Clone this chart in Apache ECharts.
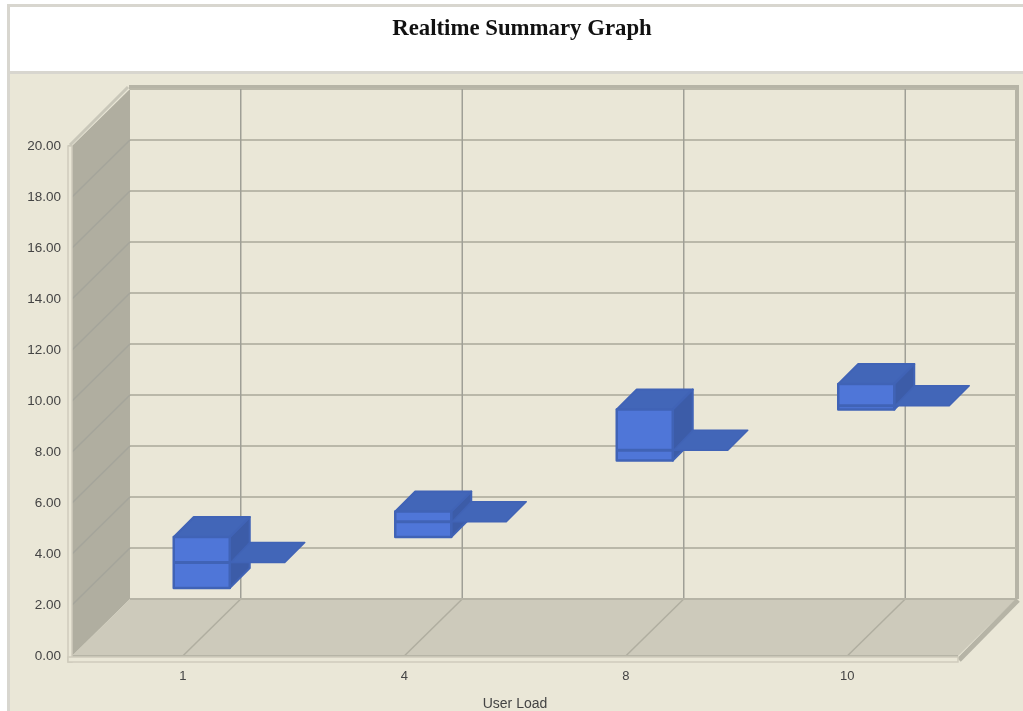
<!DOCTYPE html>
<html><head><meta charset="utf-8">
<style>html,body{margin:0;padding:0;background:#fff}#c{width:1023px;height:711px;filter:blur(0.45px)}</style>
<script src="https://cdn.jsdelivr.net/npm/echarts@6/dist/echarts.min.js"></script>
</head><body><div id="c"></div>
<script>
const categories = ['1', '4', '8', '10'];
const lowValues = [2, 4, 7, 9];
const highValues = [4, 5, 9, 10];
const medianValues = [3, 4.6, 7.4, 9.15];
const yMax = 20, yStep = 2;
const yTicks = [0,2,4,6,8,10,12,14,16,18,20];

const DX = 58, DY = 57;       // depth of the 3D room
const BOX_W = 56, BOX_DX = 19, BOX_DY = 17, BOX_D = 20;

const BG = '#eae7d7', WALL = '#b0aea0', FLOOR = '#cdcabb', EDGE = '#b6b4a6';
const FRONT = '#4f76d8', TOP = '#4266b8', SIDE = '#3c5ca8', STROKE = '#4063b6';

function line(x1, y1, x2, y2, stroke, lineWidth) {
  return {type: 'line', shape: {x1, y1, x2, y2}, style: {stroke, lineWidth}};
}
function poly(points, fill, stroke, lineWidth) {
  return {type: 'polygon', shape: {points},
    style: {fill, stroke: stroke || null, lineWidth: lineWidth || 0, lineJoin: 'round'}};
}

function renderRoom(params, api) {
  const g = params.coordSys;
  const L = g.x, R = g.x + g.width, T = g.y, B = g.y + g.height;
  const c = [];
  // left wall & floor
  c.push(poly([[L,T],[L+DX,T-DY],[L+DX,B-DY],[L,B]], WALL));
  c.push(poly([[L,B],[L+DX,B-DY],[R+DX,B-DY],[R,B]], FLOOR));
  // frame edges
  c.push(line(L-2, T-1, L+DX-2, T-DY-2, '#c9c7b9', 3));
  c.push(line(L+DX-1, T-DY-2, R+DX+3, T-DY-2, EDGE, 4));
  c.push(line(R+DX+1, T-DY-4, R+DX+1, B-DY, EDGE, 4));
  c.push(line(R+1, B+4, R+DX+2, B-DY+1, EDGE, 5));
  // horizontal grid: wall diagonal + back wall
  yTicks.forEach(v => {
    const y = api.coord([0, v])[1];
    if (v > 0) c.push(line(L+DX, y-DY, R+DX, y-DY, '#bab8a9', 2));
    if (v > 0 && v < yMax) c.push(line(L, y, L+DX, y-DY, '#a5a59b', 1.5));
  });
  // vertical grid: floor diagonal + back wall
  categories.forEach((_, i) => {
    const x = api.coord([i, 0])[0];
    c.push(line(x+DX, T-DY, x+DX, B-DY, '#9f9f96', 1.5));
    c.push(line(x, B, x+DX, B-DY, '#b0aea0', 1.5));
  });
  c.push(line(L+DX, B-DY, R+DX, B-DY, EDGE, 2));
  c.push(line(L, B, R, B, EDGE, 2));
  // axis strips
  c.push({type: 'rect', shape: {x: L-4, y: T, width: 4, height: B-T+6},
    style: {fill: BG, stroke: '#cfccbd', lineWidth: 1.5}});
  c.push({type: 'rect', shape: {x: L-4, y: B+1, width: R-L+4, height: 5},
    style: {fill: BG, stroke: '#cfccbd', lineWidth: 1.5}});
  return {type: 'group', children: c};
}

function renderBox(params, api) {
  const i = api.value(0);
  const cx = api.coord([i, 0])[0];
  const x0 = cx + BOX_DX - BOX_W / 2, x1 = x0 + BOX_W;
  const yLo = api.coord([i, api.value(1)])[1] - BOX_DY;
  const yHi = api.coord([i, api.value(2)])[1] - BOX_DY;
  const yMed = api.coord([i, api.value(3)])[1] - BOX_DY;
  const d = BOX_D;
  return {type: 'group', children: [
    poly([[x1,yHi],[x1+d,yHi-d],[x1+d,yLo-d],[x1,yLo]], SIDE, STROKE, 2),
    poly([[x0,yHi],[x0+d,yHi-d],[x1+d,yHi-d],[x1,yHi]], TOP, STROKE, 2),
    poly([[x0,yHi],[x1,yHi],[x1,yLo],[x0,yLo]], FRONT, STROKE, 2.5),
    line(x0, yMed, x1, yMed, STROKE, 3),
    poly([[x1+1,yMed],[x1+55,yMed],[x1+55+d,yMed-d],[x1+d,yMed-d]], TOP, STROKE, 1.5)
  ]};
}

const chart = echarts.init(document.getElementById('c'), null, {renderer: 'canvas'});
chart.setOption({
  animation: false,
  backgroundColor: '#ffffff',
  title: {
    text: 'Realtime Summary Graph', left: 517, top: 13, textAlign: 'center',
    textStyle: {fontFamily: '"Liberation Serif"', fontWeight: 'bold', fontSize: 22.8, color: '#111'}
  },
  graphic: [
    {type: 'rect', z: -10, shape: {x: 8, y: 72, width: 1015, height: 639}, style: {fill: BG}},
    {type: 'rect', z: -9, shape: {x: 7, y: 4, width: 1016, height: 3}, style: {fill: '#d8d6cf'}},
    {type: 'rect', z: -9, shape: {x: 7, y: 4, width: 3, height: 707}, style: {fill: '#d8d6cf'}},
    {type: 'rect', z: -9, shape: {x: 7, y: 71, width: 1016, height: 3}, style: {fill: '#d8d6cf'}}
  ],
  grid: {left: 72, right: 65, top: 146, bottom: 55, containLabel: false, outerBoundsMode: 'none'},
  xAxis: {
    type: 'category', data: categories,
    name: 'User Load', nameLocation: 'middle', nameGap: 41,
    nameTextStyle: {fontFamily: '"Liberation Sans"', fontSize: 14, color: '#444'},
    axisLine: {show: false},
    axisTick: {show: true, alignWithLabel: true, length: 6, lineStyle: {color: '#b6b4a6', width: 1.5}},
    axisLabel: {fontFamily: '"Liberation Sans"', fontSize: 13, color: '#444', margin: 14},
    splitLine: {show: false}
  },
  yAxis: {
    type: 'value', min: 0, max: yMax, interval: yStep,
    axisLine: {show: false},
    axisTick: {show: true, length: 4, lineStyle: {color: '#b6b4a6', width: 1.5}},
    axisLabel: {fontFamily: '"Liberation Sans"', fontSize: 13.5, color: '#444', margin: 11,
      formatter: v => v.toFixed(2)},
    splitLine: {show: false}
  },
  series: [
    {type: 'custom', name: 'room', silent: true, z: 1, clip: false, renderItem: renderRoom,
      data: [[0, 0]], encode: {x: 0, y: 1}},
    {type: 'custom', name: 'box', z: 2, clip: false, renderItem: renderBox,
      data: categories.map((_, i) => [i, lowValues[i], highValues[i], medianValues[i]]),
      encode: {x: 0, y: [1, 2, 3]}}
  ]
});
</script></body></html>
